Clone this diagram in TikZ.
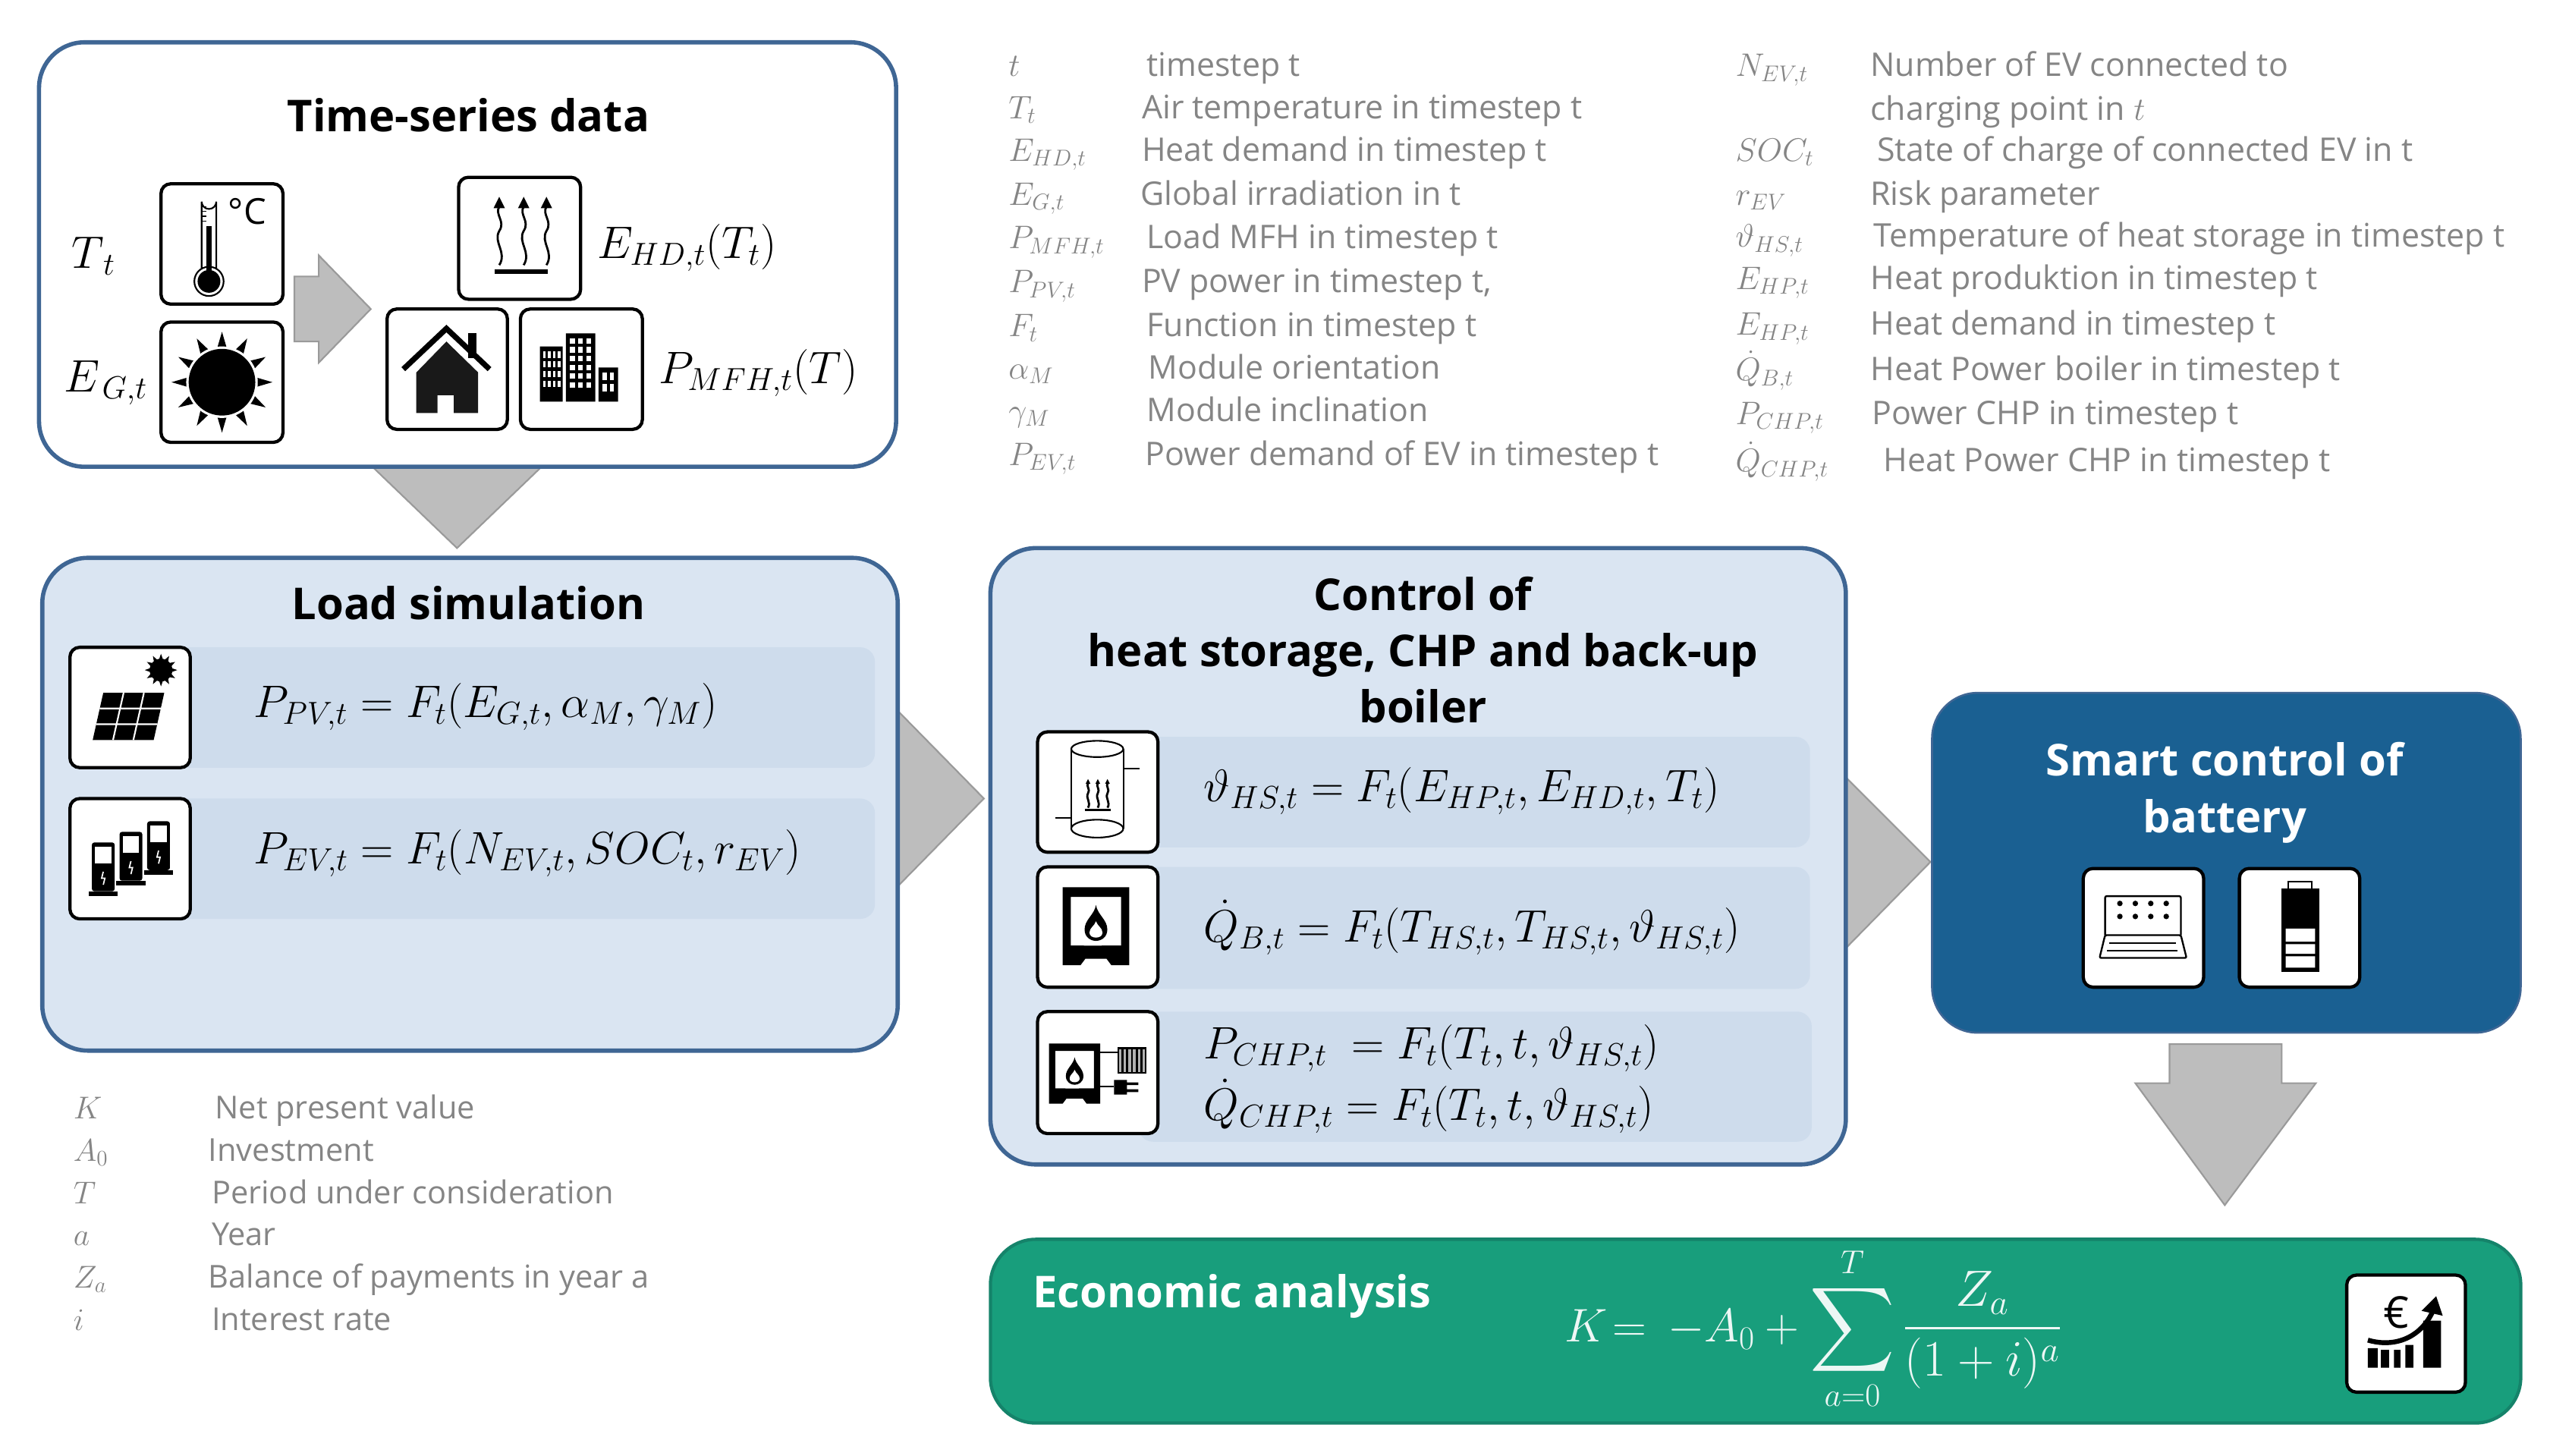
\RequirePackage{fix-cm}
\documentclass[tikz,border=0pt]{standalone}
\usepackage{fontspec}
\setmainfont{Open Sans}
\usetikzlibrary{calc,backgrounds}
\DeclareFontFamily{OMX}{cmex}{}
\DeclareFontShape{OMX}{cmex}{m}{n}{<->cmex10}{}
\definecolor{edgeblue}{HTML}{3F6694}
\definecolor{boxfill}{HTML}{DAE5F2}
\definecolor{band}{HTML}{CEDCEC}
\definecolor{smartblue}{HTML}{1A6092}
\definecolor{smartedge}{HTML}{3F6694}
\definecolor{econ}{HTML}{189E7C}
\definecolor{econedge}{HTML}{15836A}
\definecolor{arrowgray}{HTML}{BDBDBD}
\definecolor{arrowedge}{HTML}{9A9A9A}
\definecolor{legend}{HTML}{858585}
\newcommand{\BX}[6]{\node[#6,anchor=north west,inner sep=0pt,outer sep=0pt,minimum width={(#4-#2)*1pt},minimum height={(#5-#3)*1pt}] (#1) at (#2,#3) {};}
\newcommand{\SZ}[1]{\fontsize{#1}{#1}\selectfont}
\newcommand{\LA}[4]{\node[legendtext,anchor=base west] (#1) at (#2,#3) {#4};}
\newcommand{\FM}[4]{\node[formula,anchor=base west] (#1) at (#2,#3) {$#4$};}
% icons: origin = top left corner of the icon frame (74 wide)
\newcommand{\Waves}[3]{% x, top, scale
\begin{scope}[shift={(#1,#2)},scale=#3]
\draw[line width=1.3pt,black] (0,42) .. controls (5,34) and (-4,28) .. (0,21) .. controls (4,15) and (-3,11) .. (0,6);
\fill[black] (-3.5,7) -- (0,0) -- (3.5,7) -- cycle;
\end{scope}}
\newcommand{\Flame}[3]{%
\begin{scope}[shift={(#1,#2)},scale=#3]
\fill[black] (0,-11) .. controls (1,-5) and (7,-2) .. (7,4) .. controls (7,9) and (3,11) .. (0,11) .. controls (-3,11) and (-7,9) .. (-7,4) .. controls (-7,-2) and (-1,-5) .. (0,-11) -- cycle;
\fill[white] (0,-1) .. controls (1,2) and (4,3) .. (4,6) .. controls (4,8) and (2,9) .. (0,9) .. controls (-2,9) and (-4,8) .. (-4,6) .. controls (-4,3) and (-1,2) .. (0,-1) -- cycle;
\end{scope}}
\newcommand{\Boiler}{%
\fill[black,even odd rule] (0,0) -- (41,0) -- (41,48) -- (30,48) -- (27,44) -- (14,44) -- (11,48) -- (0,48) -- cycle
 (5,6) rectangle (36,36);
\fill[black] (5,36) -- (13,36) -- (17,40) -- (5,40) -- cycle (36,36) -- (24,36) -- (24,40) -- (36,40) -- cycle;
\Flame{20.5}{22}{1.0}}
\newcommand{\Charger}[2]{%
\begin{scope}[shift={(#1,#2)}]
\fill[black,rounded corners=1.5pt] (0.5,0) rectangle (14.5,30);
\fill[white] (2.5,2.5) rectangle (12.5,13);
\fill[black] (-1.5,30) rectangle (16.5,33);
\draw[white,line width=.8pt] (7.5,18) -- (6.5,22) -- (8.5,22) -- (7.5,26);
\end{scope}}
\tikzset{
 lightbox/.style={draw=edgeblue,line width=2.6pt,fill=boxfill,rounded corners=28pt},
 whitebox/.style={draw=edgeblue,line width=2.6pt,fill=white,rounded corners=28pt},
 smartbox/.style={draw=smartedge,line width=1.2pt,fill=smartblue,rounded corners=28pt},
 econbox/.style={draw=econedge,line width=2pt,fill=econ,rounded corners=28pt},
 bandbox/.style={fill=band,rounded corners=9pt},
 iconbox/.style={draw=black,line width=2pt,fill=white,rounded corners=6pt},
 blockarrow/.style={fill=arrowgray,draw=arrowedge,line width=1pt,line join=miter},
 titletext/.style={font=\SZ{27}\bfseries,text=black,inner sep=0pt},
 whitetitle/.style={font=\SZ{27}\bfseries,text=white,inner sep=0pt},
 legendtext/.style={font=\SZ{20},text=legend,inner sep=0pt},
 formula/.style={font=\SZ{28},text=black,inner sep=0pt},
}
\begin{document}
\begin{tikzpicture}[x=1pt,y=-1pt]
\useasboundingbox (0,0) rectangle (1568,895.2);
% main boxes
\BX{boxA}{24}{26}{551}{287}{whitebox}
\BX{boxB}{26}{343}{552}{646}{lightbox}
\BX{boxC}{609}{337}{1135}{716}{lightbox}
\BX{boxD}{1188}{426}{1550}{635}{smartbox}
\BX{boxE}{609}{762}{1550}{875}{econbox}
% block arrows
\coordinate (tipAB) at (281,337);
\coordinate (tipBC) at (605,491);
\coordinate (tipCD) at (1187,530);
\coordinate (tipDE) at (1368,741);
\begin{scope}[on background layer]
\draw[blockarrow] ($(boxA.south -| tipAB)+(-52,0)$) -- ($(boxA.south -| tipAB)+(52,0)$) -- (tipAB) -- cycle;
\draw[blockarrow] ($(boxB.east |- tipBC)+(0,-54)$) -- (tipBC) -- ($(boxB.east |- tipBC)+(0,54)$) -- cycle;
\draw[blockarrow] ($(boxC.east |- tipCD)+(0,-52)$) -- (tipCD) -- ($(boxC.east |- tipCD)+(0,53)$) -- cycle;
\end{scope}
\draw[blockarrow] ($(boxD.south -| tipDE)+(-34,7)$) -- ($(boxD.south -| tipDE)+(35,7)$) -- ($(boxD.south -| tipDE)+(35,31)$) -- ($(boxD.south -| tipDE)+(56,31)$) -- (tipDE) -- ($(boxD.south -| tipDE)+(-55,31)$) -- ($(boxD.south -| tipDE)+(-34,31)$) -- cycle;
\coordinate (tipS) at (228,190);
\draw[blockarrow] (181,170) -- (196,170) -- (196,157) -- (tipS) -- (196,223) -- (196,210) -- (181,210) -- cycle;
% bands
\BX{bandB1}{100}{398}{538}{472}{bandbox}
\BX{bandB2}{100}{491}{538}{565}{bandbox}
\BX{bandC1}{700}{453}{1113}{521}{bandbox}
\BX{bandC2}{700}{533}{1113}{608}{bandbox}
\BX{bandC3}{700}{622}{1114}{702}{bandbox}
% icon frames
\BX{icThermo}{99}{113}{174}{187}{iconbox}
\BX{icSun}{99}{198}{174}{272}{iconbox}
\BX{icHeat}{282}{109}{357}{184}{iconbox}
\BX{icHouse}{238}{190}{312}{264}{iconbox}
\BX{icBuilding}{320}{190}{395}{264}{iconbox}
\BX{icPV}{43}{398}{117}{472}{iconbox}
\BX{icEV}{43}{491}{117}{565}{iconbox}
\BX{icTank}{638}{450}{712}{524}{iconbox}
\BX{icBoiler}{638}{533}{712}{607}{iconbox}
\BX{icCHP}{638}{622}{712}{697}{iconbox}
\BX{icLaptop}{1281}{534}{1355}{607}{iconbox}
\BX{icBattery}{1377}{534}{1451}{607}{iconbox}
\BX{icEuro}{1443}{784}{1516}{856}{iconbox}
% thermometer
\begin{scope}[shift={(99,113)}]
\draw[black,line width=1pt] (25,52) -- (25,11) arc[start angle=180,end angle=0,radius=4.5] -- (34,52);
\draw[black,line width=1pt] (29.5,60) circle[radius=9];
\fill[black] (29.5,60) circle[radius=7];
\fill[black] (28,26) rectangle (31,56);
\draw[black,line width=.6pt] (25,14) -- (28,14) (25,17) -- (28,17) (25,20) -- (28,20) (25,23) -- (28,23);
\node[inner sep=0pt,font=\SZ{22},text=black] (degC) at (53,17) {°C};
\end{scope}
% sun
\begin{scope}[shift={(136.5,235)}]
\foreach \a in {0,30,...,330} {\fill[black] (\a-11:19) -- (\a:31) -- (\a+11:19) -- cycle;}
\fill[white] (0,0) circle[radius=22];
\fill[black] (0,0) circle[radius=20.5];
\end{scope}
% heat
\begin{scope}[shift={(282,109)}]
\Waves{25}{12}{1}\Waves{40}{12}{1}\Waves{54}{12}{1}
\draw[black,line width=2.6pt] (22,58) -- (55,58);
\end{scope}
% house
\begin{scope}[shift={(238,190)}]
\fill[black] (50,15) rectangle (55,30);
\draw[black,line width=3.4pt,line join=miter] (10,37) -- (36.5,12) -- (63,37);
\fill[black!90] (18,39) -- (36.5,20) -- (56,39) -- (56,64) -- (41,64) -- (41,53) -- (31,53) -- (31,64) -- (18,64) -- cycle;
\end{scope}
% building
\begin{scope}[shift={(320,190)}]
\fill[black] (12,23) rectangle (26,57) (28,15) rectangle (46,57) (48,36) rectangle (60,57);
\foreach \i in {0,1,2,3} {\foreach \j in {0,1,2,3} {\fill[white] (14+\i*3,26+\j*6) rectangle +(1.6,4);}}
\foreach \i in {0,1,2} {\foreach \j in {0,1,2,3,4,5} {\fill[white] (30.5+\i*5,18+\j*5.4) rectangle +(3,3.4);}}
\foreach \i in {0,1} {\foreach \j in {0,1} {\fill[white] (50.5+\i*4.5,39+\j*7) rectangle +(2.5,4.5);}}
\end{scope}
% PV
\begin{scope}[shift={(43,398)}]
\begin{scope}[shift={(56,14)}]
\foreach \a in {0,30,...,330} {\fill[black] (\a-14:6) -- (\a:10) -- (\a+14:6) -- cycle;}
\fill[black] (0,0) circle[radius=7];
\end{scope}
\fill[black] (20.5,28) -- (58,28) -- (51.5,57) -- (14,57) -- cycle;
\draw[white,line width=1pt] (18.3,37.6) -- (55.8,37.6) (16.2,47.3) -- (53.7,47.3) (33,28) -- (26.5,57) (45.5,28) -- (39,57);
\end{scope}
% EV
\begin{scope}[shift={(43,491)}]
\Charger{47}{14}\Charger{30}{20.5}\Charger{13}{27}
\end{scope}
% tank
\begin{scope}[shift={(638,450)}]
\draw[black,line width=1pt] (20.7,10.5) -- (20.7,59.5) (52.8,59.5) -- (52.8,10.5);
\draw[black,line width=1pt] (36.7,10.5) ellipse[x radius=16,y radius=5];
\draw[black,line width=1pt] (36.7,59.5) ellipse[x radius=16,y radius=5.5];
\draw[black,line width=1pt] (52.8,22.5) -- (62.5,22.5) (10.7,53) -- (20.7,53);
\Waves{31}{29}{.42}\Waves{37}{29}{.42}\Waves{43}{29}{.42}
\draw[black,line width=1.4pt] (29,48) -- (45,48);
\end{scope}
% boiler
\begin{scope}[shift={(653.4,545.5)}]
\Boiler
\end{scope}
% CHP
\begin{scope}[shift={(645,641.6)},scale=.77]
\Boiler
\end{scope}
\begin{scope}[shift={(638,622)}]
\draw[black,line width=1.1pt] (38.5,25) -- (49,25) (38.5,46) -- (47,46);
\fill[black] (49,22) rectangle (67,38);
\foreach \i in {0,1,...,5} {\fill[white!70!black] (50+\i*2.9,23) rectangle +(1.6,14);}
\fill[black] (47,42) rectangle (55,51) (54,43.5) rectangle (62,45.2) (54,47.8) rectangle (62,49.5);
\end{scope}
% laptop
\begin{scope}[shift={(1281,534)}]
\draw[black,line width=1.1pt,rounded corners=1pt] (13.4,41) -- (13.4,17) -- (60,17) -- (60,41);
\draw[black,line width=1.1pt,rounded corners=1pt] (13.4,41) -- (60,41) -- (63.5,55) -- (10,55) -- cycle;
\foreach \i in {0,1,2,3} {\foreach \j in {0,1} {\fill[black] (22.5+\i*9.5,21.5+\j*8) circle[radius=1.7];}}
\draw[black,line width=.8pt] (16,46) -- (57,46) (14.5,50.5) -- (58,50.5);
\end{scope}
% battery
\begin{scope}[shift={(1377,534)}]
\draw[black,line width=1.2pt] (30,8) rectangle (44.5,14);
\fill[black] (26,12.4) rectangle (49,63.4);
\fill[white] (28.5,37) rectangle (46.5,45) (28.5,46.5) rectangle (46.5,52.5) (28.5,54) rectangle (46.5,61);
\end{scope}
% euro
\begin{scope}[shift={(1443,784)}]
\node[inner sep=0pt,font=\SZ{27},text=black] (euroSym) at (30.5,23) {€};
\fill[black] (13,45) rectangle (19,57) (21,46) rectangle (26,57) (29,46) rectangle (33,57) (36,43) rectangle (41,57) (47,28) rectangle (58,57);
\draw[black,line width=3pt] (13,40) .. controls (30,45) and (46,38) .. (53,22);
\fill[black] (46,22) -- (55,13) -- (59,25) -- cycle;
\end{scope}
% titles
\node[titletext] (tA) at (288,71) {Time-series data};
\node[titletext] (tB) at (288,371) {Load simulation};
\node[titletext] (tC1) at (875,365) {Control of};
\node[titletext] (tC2) at (875,403) {heat storage, CHP and back-up};
\node[titletext] (tC3) at (875,434) {boiler};
\node[whitetitle] (tD1) at (1368,467) {Smart control of};
\node[whitetitle] (tD2) at (1368,505) {battery};
\node[whitetitle,anchor=west] (tE) at (635,797) {Economic analysis};
% formulas
\FM{fT}{44}{165}{T_{\,t}}
\FM{fE}{39}{241}{E_{\,G,t}}
\FM{fHD}{367}{159}{E_{HD,t}(T_t)}
\FM{fMFH}{405}{236}{P_{MFH,t}(T)}
\FM{fPV}{156}{441}{P_{PV,t}=F_t(E_{G,t},\alpha_M,\gamma_M)}
\FM{fEV}{156}{531}{P_{EV,t}=F_t(N_{EV,t},SOC_t,r_{EV})}
\FM{fHS}{740}{493}{\vartheta_{HS,t}=F_t(E_{HP,t},E_{HD,t},T_t)}
\FM{fB}{740}{579}{\dot{Q}_{B,t}=F_t(T_{HS,t},T_{HS,t},\vartheta_{HS,t})}
\FM{fCHP}{740}{651}{P_{CHP,t}\ =F_t(T_t,t,\vartheta_{HS,t})}
\FM{fQCHP}{740}{689}{\dot{Q}_{CHP,t}=F_t(T_t,t,\vartheta_{HS,t})}
\node[formula,anchor=west,text=white!92!econ,font=\SZ{29}] (fK) at (962,817) {$\displaystyle K\!=\,-A_0+\mathop{\vcenter{\hbox{\scalebox{1.25}{$\displaystyle\sum$}}}}\limits_{a=0}^{T}\vcenter{\hbox{\scalebox{1.08}{$\displaystyle\frac{Z_a}{(1+i)^a}$}}}$};
% legend column 1
\LA{s1}{620}{47}{$t$}\LA{d1}{705}{47}{timestep t}
\LA{s2}{620}{73}{$T_t$}\LA{d2}{702}{73}{Air temperature in timestep t}
\LA{s3}{620}{99}{$E_{HD,t}$}\LA{d3}{702}{99}{Heat demand in timestep t}
\LA{s4}{620}{126}{$E_{G,t}$}\LA{d4}{701}{126}{Global irradiation in t}
\LA{s5}{620}{153}{$P_{MFH,t}$}\LA{d5}{705}{153}{Load MFH in timestep t}
\LA{s6}{620}{180}{$P_{PV,t}$}\LA{d6}{702}{180}{PV power in timestep t,}
\LA{s7}{620}{207}{$F_t$}\LA{d7}{705}{207}{Function in timestep t}
\LA{s8}{620}{233}{$\alpha_M$}\LA{d8}{706}{233}{Module orientation}
\LA{s9}{620}{259}{$\gamma_M$}\LA{d9}{705}{259}{Module inclination}
\LA{s10}{620}{286}{$P_{EV,t}$}\LA{d10}{704}{286}{Power demand of EV in timestep t}
% legend column 2
\LA{r1}{1067}{47}{$N_{EV,t}$}\LA{e1}{1150}{47}{Number of EV connected to}
\LA{e1b}{1150}{74}{charging point in $t$}
\LA{r2}{1067}{99}{$SOC_t$}\LA{e2}{1154}{99}{State of charge of connected EV in t}
\LA{r3}{1067}{126}{$r_{EV}$}\LA{e3}{1150}{126}{Risk parameter}
\LA{r4}{1067}{152}{$\vartheta_{HS,t}$}\LA{e4}{1152}{152}{Temperature of heat storage in timestep t}
\LA{r5}{1067}{178}{$E_{HP,t}$}\LA{e5}{1150}{178}{Heat produktion in timestep t}
\LA{r6}{1067}{206}{$E_{HP,t}$}\LA{e6}{1150}{206}{Heat demand in timestep t}
\LA{r7}{1067}{234}{$\dot{Q}_{B,t}$}\LA{e7}{1150}{234}{Heat Power boiler in timestep t}
\LA{r8}{1067}{261}{$P_{CHP,t}$}\LA{e8}{1151}{261}{Power CHP in timestep t}
\LA{r9}{1067}{290}{$\dot{Q}_{CHP,t}$}\LA{e9}{1158}{290}{Heat Power CHP in timestep t}
% legend bottom left
\begin{scope}[legendtext/.append style={font=\SZ{19.4}}]
\LA{k1}{45}{688}{$K$}\LA{g1}{132}{688}{Net present value}
\LA{k2}{45}{714}{$A_0$}\LA{g2}{128}{714}{Investment}
\LA{k3}{45}{740}{$T$}\LA{g3}{130}{740}{Period under consideration}
\LA{k4}{45}{766}{$a$}\LA{g4}{130}{766}{Year}
\LA{k5}{45}{792}{$Z_a$}\LA{g5}{128}{792}{Balance of payments in year a}
\LA{k6}{45}{818}{$i$}\LA{g6}{130}{818}{Interest rate}
\end{scope}
\end{tikzpicture}
\end{document}
